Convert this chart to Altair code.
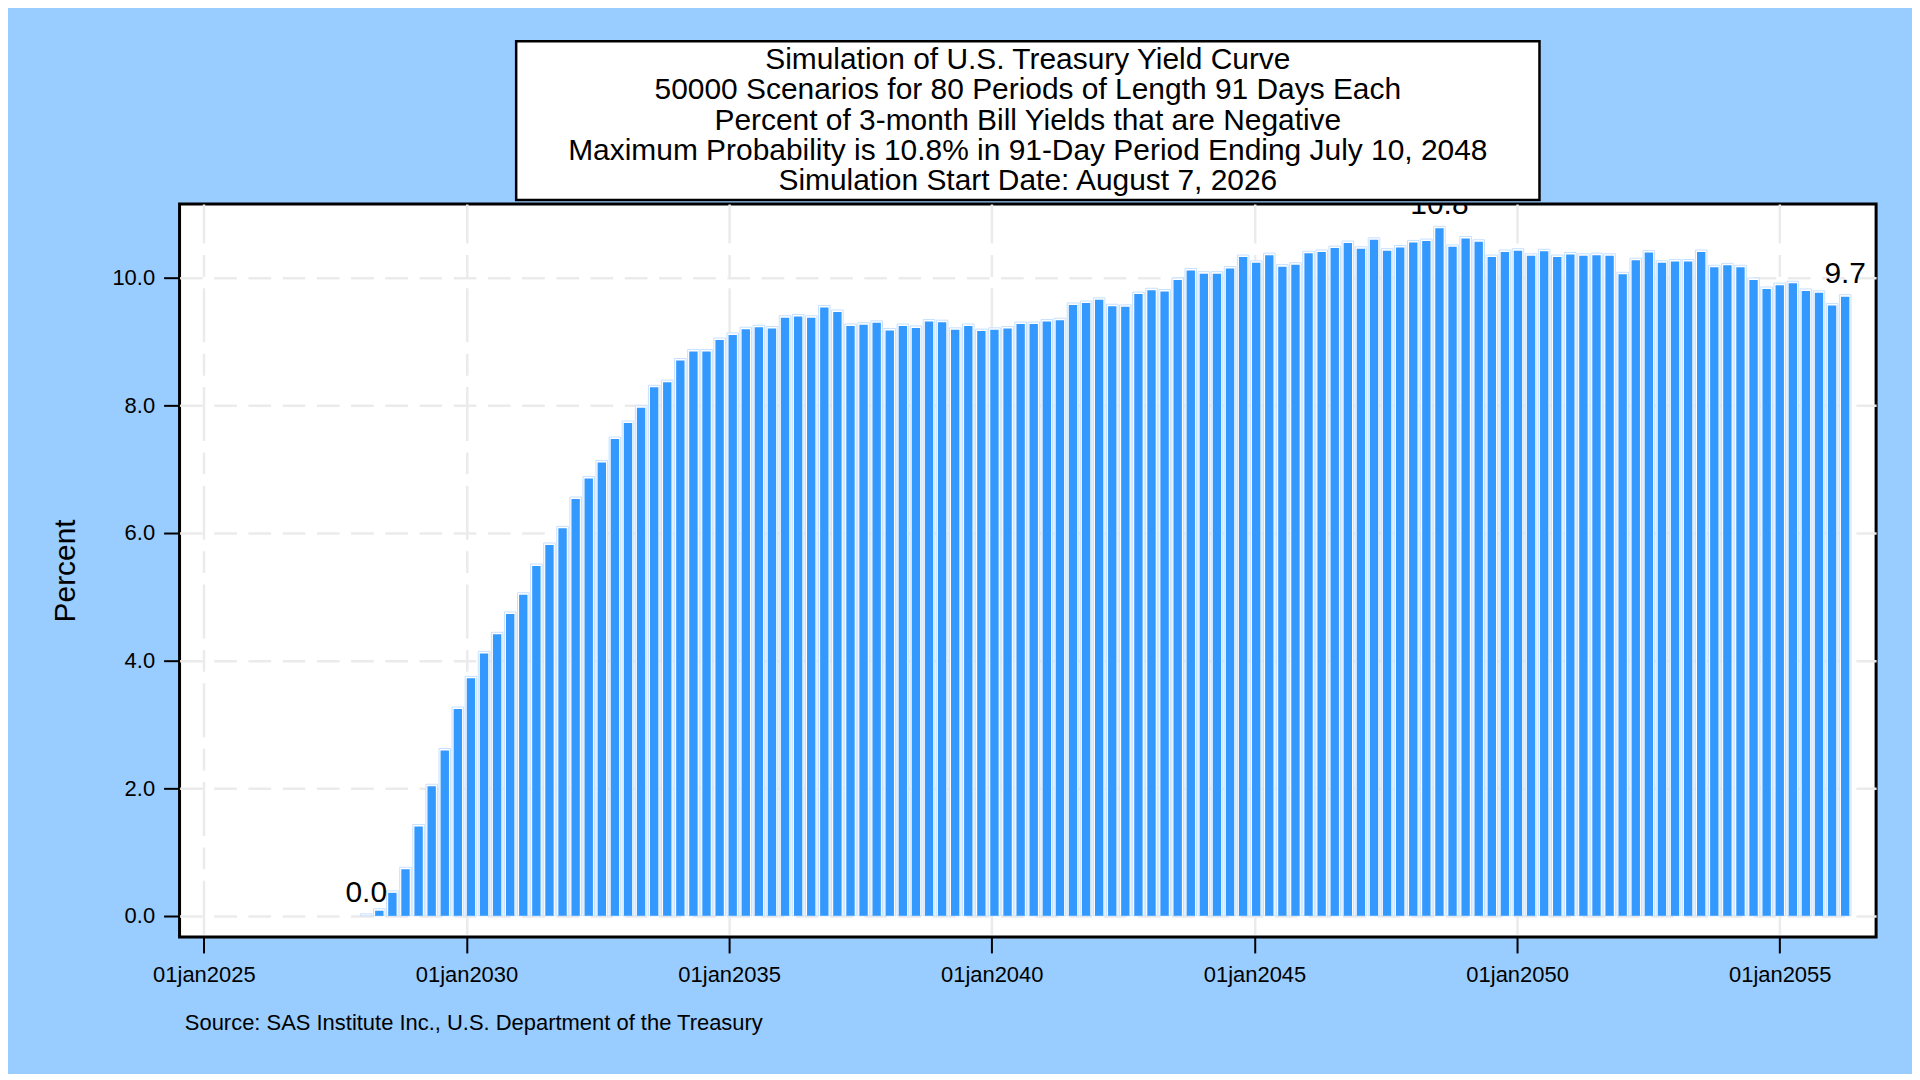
import altair as alt
import pandas as pd

FONT = "Liberation Sans"

# Percent of 3-month bill yields that are negative, one value per 91-day period
values = [0.0, 0.08, 0.36, 0.73, 1.40, 2.03, 2.59, 3.24, 3.72, 4.11,
          4.41, 4.73, 5.03, 5.48, 5.81, 6.07, 6.53, 6.85, 7.10, 7.47,
          7.72, 7.96, 8.28, 8.36, 8.70, 8.84, 8.84, 9.02, 9.10, 9.19,
          9.22, 9.20, 9.37, 9.39, 9.37, 9.53, 9.46, 9.24, 9.26, 9.29,
          9.17, 9.24, 9.21, 9.31, 9.30, 9.18, 9.24, 9.16, 9.18, 9.20,
          9.27, 9.27, 9.31, 9.33, 9.57, 9.60, 9.65, 9.55, 9.54, 9.74,
          9.80, 9.78, 9.96, 10.11, 10.06, 10.06, 10.14, 10.32, 10.23, 10.35,
          10.17, 10.20, 10.38, 10.40, 10.46, 10.54, 10.45, 10.59, 10.42, 10.47,
          10.55, 10.57, 10.77, 10.48, 10.61, 10.56, 10.32, 10.40, 10.42, 10.34,
          10.41, 10.32, 10.36, 10.34, 10.35, 10.34, 10.05, 10.27, 10.39, 10.23,
          10.25, 10.25, 10.40, 10.16, 10.19, 10.16, 9.96, 9.82, 9.88, 9.91,
          9.79, 9.76, 9.56, 9.70]

# period end dates: consecutive 91-day periods
first_period_end = "2028-02-04"
period_days = 91
dates = pd.date_range(first_period_end, periods=len(values), freq=f"{period_days}D")

tick_years = [2025, 2030, 2035, 2040, 2045, 2050, 2055]
y_ticks = [0, 2, 4, 6, 8, 10]

title_lines = [
    "Simulation of U.S. Treasury Yield Curve",
    "50000 Scenarios for 80 Periods of Length 91 Days Each",
    "Percent of 3-month Bill Yields that are Negative",
    "Maximum Probability is 10.8% in 91-Day Period Ending July 10, 2048",
    "Simulation Start Date: August 7, 2026",
]
source_text = "Source: SAS Institute Inc., U.S. Department of the Treasury"
y_title = "Percent"

df = pd.DataFrame({"date": dates, "value": values})
imax = int(df["value"].idxmax())
df_lab = df.iloc[[0, imax, len(df) - 1]].reset_index(drop=True)

GRID = "#ebebeb"
BAR = "#3399ff"
BAR_EDGE = "#c6e0ff"
BG = "#99ccff"

W, H = 1701, 735
TITLE_FS = 30
TITLE_LH = 30.3

x_enc = alt.X(
    "date:T",
    scale=alt.Scale(domain=[alt.DateTime(year=2024, month=7, date=16),
                            alt.DateTime(year=2056, month=11, date=1)],
                    padding=0),
    axis=alt.Axis(
        values=[alt.DateTime(year=y, month=1, date=1) for y in tick_years],
        labelExpr="lower(timeFormat(datum.value, '%d%b%Y'))",
        title=source_text,
        domain=False,
        tickSize=16, tickWidth=2, tickColor="black",
        labelFont=FONT, labelFontSize=22, labelColor="black",
        labelBaseline="alphabetic", labelPadding=28.4,
        labelFlush=False, labelOverlap=False,
        grid=True, gridColor=GRID, gridWidth=2.5,
        gridDash=[54, 11.5, 22, 11.5], gridDashOffset=14.8,
        titleFont=FONT, titleFontSize=22, titleFontWeight="normal",
        titleColor="black", titleAlign="left", titleAnchor="start",
        titleBaseline="alphabetic", titleX=4.8, titleY=92.7,
    ),
)

y_enc = alt.Y(
    "value:Q",
    scale=alt.Scale(domain=[-0.331, 11.153], nice=False, zero=False, padding=0),
    axis=alt.Axis(
        values=y_ticks, format=".1f", title=y_title,
        domain=False,
        tickSize=16, tickWidth=2, tickColor="black",
        labelFont=FONT, labelFontSize=22, labelColor="black", labelPadding=9,
        grid=True, gridColor=GRID, gridWidth=2.5, gridDash=[22.7, 11.6],
        titleFont=FONT, titleFontSize=30, titleFontWeight="normal",
        titleColor="black", titleAngle=270, titleAlign="center",
        titleBaseline="alphabetic", titleX=-105.5, titleY=H / 2,
    ),
)

base = alt.Chart(df).encode(x=x_enc, y=y_enc, y2=alt.datum(0))

outer = base.mark_bar(width=11.6, fill="white", stroke=BAR_EDGE,
                      strokeWidth=1, yOffset=-2)
inner = base.mark_bar(width=8.4, fill=BAR)

labels = alt.Chart(df_lab).mark_text(
    font=FONT, fontSize=30, color="black", baseline="alphabetic",
    align="center", dy=-14, clip=True,
).encode(x=x_enc, y=y_enc, text=alt.Text("value:Q", format=".1f"))

main = alt.layer(outer, inner, labels).properties(
    width=W, height=H,
    view=alt.ViewBackground(fill="white", stroke="black", strokeWidth=3),
)

box = alt.Chart(pd.DataFrame({"k": [0]})).mark_text(
    text=title_lines, font=FONT, fontSize=TITLE_FS, lineHeight=TITLE_LH,
    color="black", align="center", baseline="middle",
    dy=-(len(title_lines) - 1) / 2 * TITLE_LH,
).properties(
    width=1026, height=159,
    view=alt.ViewBackground(fill="white", stroke="black", strokeWidth=2.5),
)

chart = alt.vconcat(box, main, spacing=4, center=True, bounds="flush").properties(
    padding={"left": 41, "top": 30, "right": 34, "bottom": 37},
    background=BG,
)

chart.save("out.html", embed_options={"renderer": "svg", "actions": False})
